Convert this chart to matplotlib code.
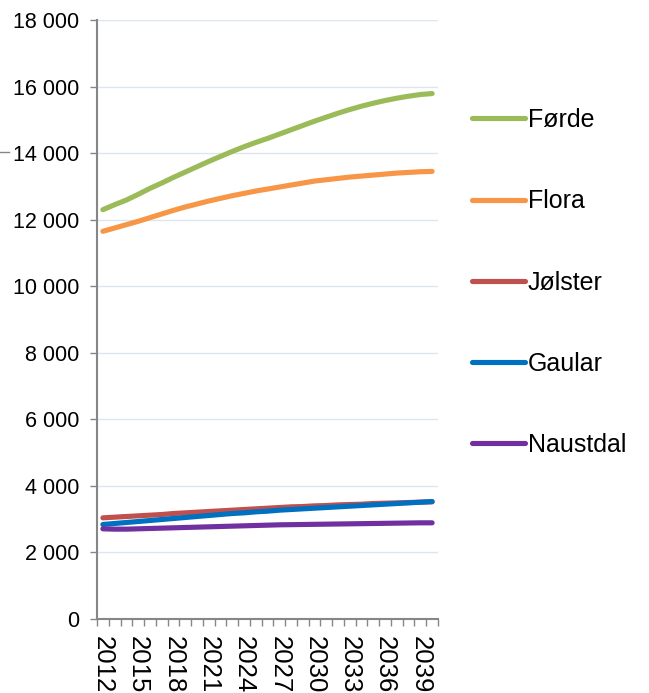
import matplotlib
matplotlib.use("Agg")
import matplotlib.pyplot as plt
from matplotlib.ticker import FuncFormatter, FixedLocator
from matplotlib.lines import Line2D

plt.rcParams['font.family'] = ['Liberation Sans', 'DejaVu Sans']

years = list(range(2012, 2041))
forde = [12300, 12450, 12590, 12760, 12940, 13100, 13270, 13430, 13590, 13750,
         13900, 14050, 14190, 14320, 14440, 14570, 14700, 14830, 14960, 15080,
         15200, 15310, 15410, 15500, 15580, 15650, 15710, 15760, 15790]
flora = [11650, 11750, 11850, 11950, 12060, 12170, 12280, 12380, 12470, 12560,
         12640, 12720, 12790, 12860, 12920, 12980, 13040, 13100, 13160, 13200,
         13240, 13280, 13310, 13340, 13370, 13400, 13420, 13440, 13450]
jolster = [3040, 3060, 3080, 3100, 3120, 3140, 3170, 3190, 3210, 3230,
           3250, 3270, 3290, 3310, 3330, 3350, 3370, 3380, 3400, 3410,
           3430, 3440, 3450, 3470, 3480, 3490, 3500, 3510, 3520]
gaular = [2840, 2870, 2900, 2930, 2960, 2990, 3020, 3050, 3080, 3110,
          3140, 3170, 3190, 3220, 3240, 3270, 3290, 3310, 3330, 3350,
          3370, 3390, 3410, 3430, 3450, 3470, 3490, 3510, 3530]
naustdal = [2710, 2700, 2700, 2710, 2720, 2730, 2740, 2750, 2760, 2770,
            2780, 2790, 2800, 2810, 2820, 2830, 2835, 2840, 2845, 2850,
            2855, 2860, 2865, 2870, 2875, 2880, 2885, 2890, 2890]

series = [("Førde", forde, "#9BBB59"),
          ("Flora", flora, "#F79646"),
          ("Jølster", jolster, "#C0504D"),
          ("Gaular", gaular, "#0070C0"),
          ("Naustdal", naustdal, "#7030A0")]

fig = plt.figure(figsize=(6.49, 6.93), dpi=100)
ax = fig.add_axes([97/649, 74/693, 341/649, 599/693])

xs = list(range(len(years)))
for name, vals, col in series:
    ax.plot(xs, vals, color=col, lw=3.7, label=name, solid_capstyle='round')

ax.set_xlim(-0.5, len(years) - 0.5)
ax.set_ylim(0, 18000)
ax.set_yticks(range(0, 18001, 2000))
ax.yaxis.set_major_formatter(FuncFormatter(lambda v, p: f"{int(v):,}".replace(",", " ")))
ax.grid(axis='y', color='#DCE6F2', lw=1)
ax.set_axisbelow(True)

ax.xaxis.set_major_locator(FixedLocator(xs[::3]))
ax.set_xticklabels([str(y) for y in years[::3]], rotation=-90)
ax.xaxis.set_minor_locator(FixedLocator([i - 0.5 for i in range(len(years) + 1)]))
ax.tick_params(axis='x', which='major', length=0, pad=12.5, labelsize=18.5)
ax.tick_params(axis='x', which='minor', length=5, color='#868686', width=1)
ax.tick_params(axis='y', length=5, color='#868686', width=1, labelsize=15.5, pad=8)

for s in ['top', 'right']:
    ax.spines[s].set_visible(False)
for s in ['left', 'bottom']:
    ax.spines[s].set_color('#868686')
    ax.spines[s].set_linewidth(1.5)

ax.legend(loc='upper left', bbox_to_anchor=(472/649, 1 - 108/693),
          bbox_transform=fig.transFigure, frameon=False, fontsize=18,
          handlelength=2.1, handletextpad=0.12, labelspacing=2.29,
          borderaxespad=0, borderpad=0)

fig.add_artist(Line2D([0, 9/649], [1 - 152/693, 1 - 152/693],
                      color='#868686', lw=1, transform=fig.transFigure))

fig.savefig("out.png", dpi=100)
